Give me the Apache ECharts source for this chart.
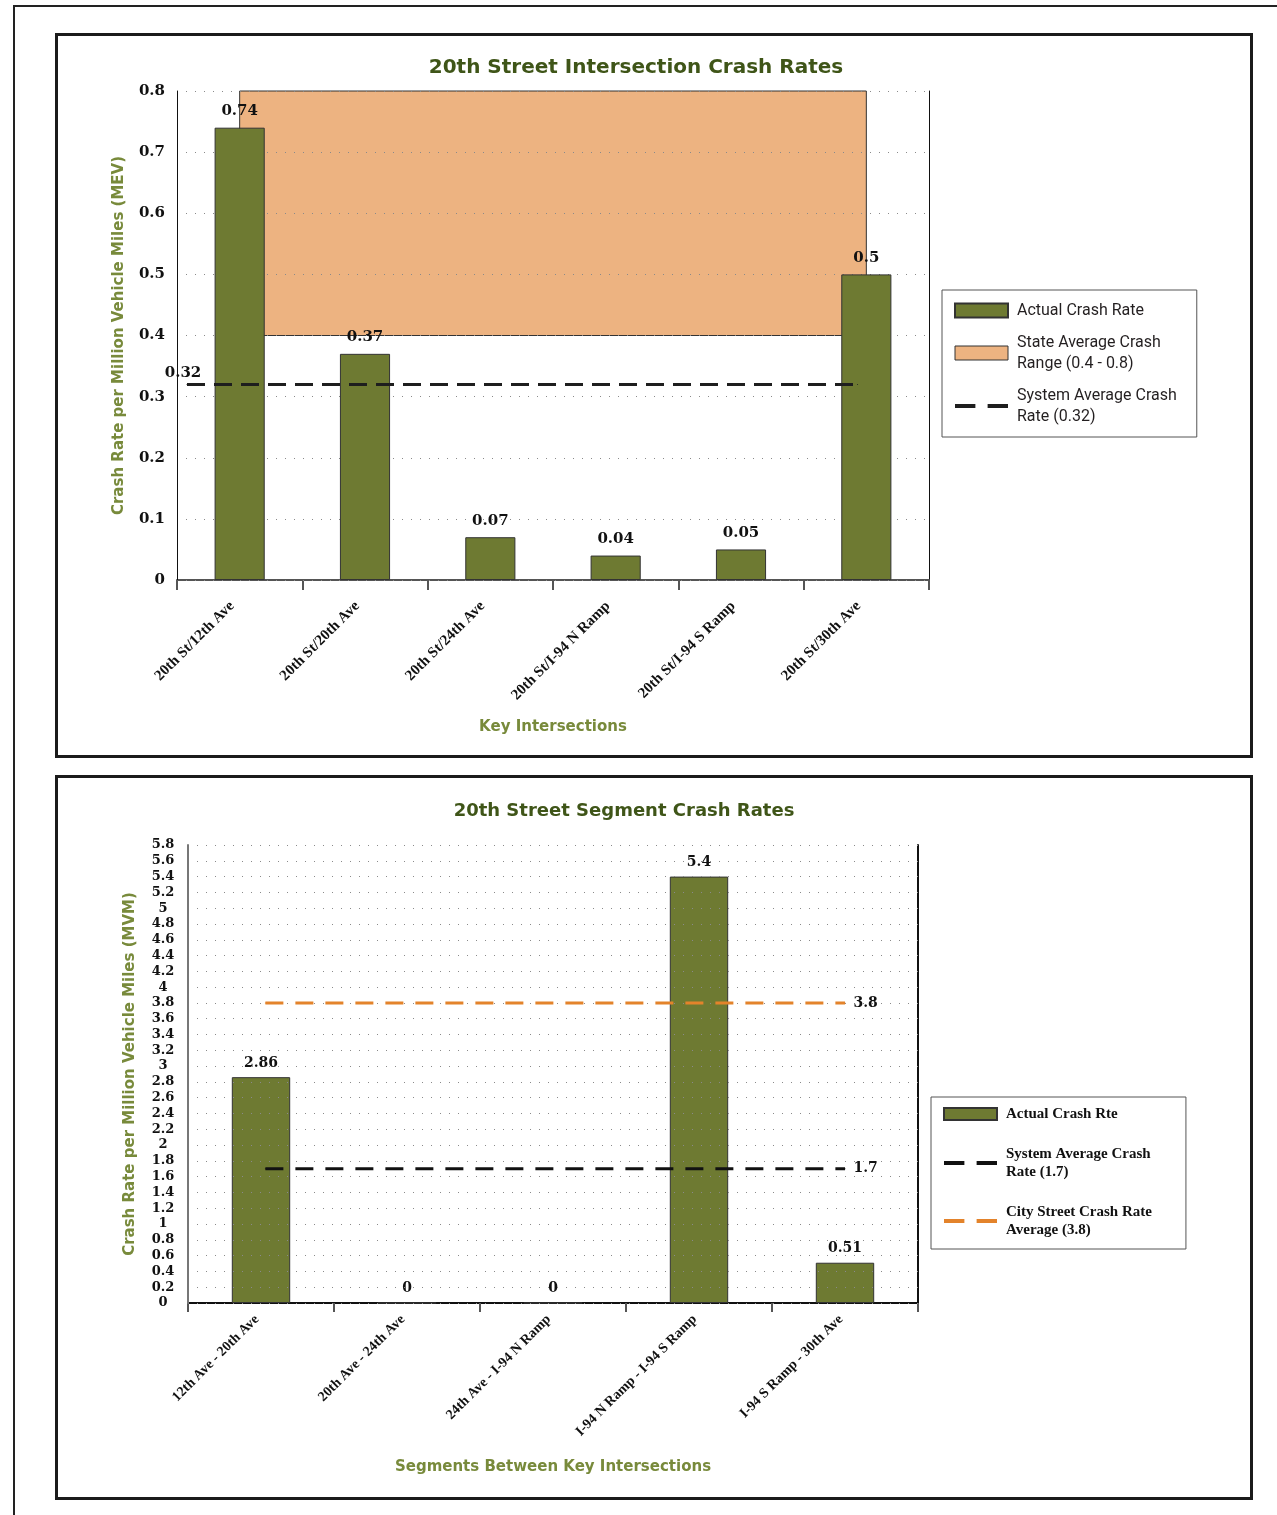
<!DOCTYPE html>
<html>
<head>
<meta charset="utf-8">
<script src="https://cdn.jsdelivr.net/npm/echarts@6/dist/echarts.min.js"></script>
<style>
    html, body { margin: 0; padding: 0; background: #fff; }
    #page { position: relative; width: 1277px; height: 1515px; overflow: hidden; }
    .outer { position: absolute; left: 13px; top: 5px; width: 1300px; height: 1600px; border-left: 2px solid #222; border-top: 2px solid #222; }
    .box { position: absolute; left: 55px; width: 1192px; height: 719px; border: 3px solid #1b1b1b; }
    #chart { position: absolute; left: 0; top: 0; width: 1277px; height: 1515px; }
</style>
</head>
<body>
<div id="page">
    <div class="outer"></div>
    <div class="box" style="top:33px"></div>
    <div class="box" style="top:775px"></div>
    <div id="chart"></div>
</div>
<script>
// 交叉口数据
const intersections = ['20th St/12th Ave', '20th St/20th Ave', '20th St/24th Ave', '20th St/I-94 N Ramp', '20th St/I-94 S Ramp', '20th St/30th Ave']
const intersectionRates = [0.74, 0.37, 0.07, 0.04, 0.05, 0.5]
const stateRange = [0.4, 0.8]
const systemAvgIntersection = 0.32
// 参考线在类目单位下的起止
const intersectionLineSpan = [0.08, 5.43]

// 路段数据
const segments = ['12th Ave - 20th Ave', '20th Ave - 24th Ave', '24th Ave - I-94 N Ramp', 'I-94 N Ramp - I-94 S Ramp', 'I-94 S Ramp - 30th Ave']
const segmentRates = [2.86, 0, 0, 5.4, 0.51]
const systemAvgSegment = 1.7
const cityAvgSegment = 3.8
const segmentLineSpan = [0.53, 4.5]

const BAR_COLOR = '#6e7a32'
const RANGE_COLOR = '#EDB381'
const ORANGE = '#E3832B'
const TITLE_COLOR = '#3f5518'
const NAME_COLOR = '#788a3b'

// 图例中的虚线图标
const DASH_ICON = 'path://M0,0h20v4h-20zM32,0h20v4h-20z'

const legendText = {
    'State Average Crash Range (0.4 - 0.8)': 'State Average Crash\nRange (0.4 - 0.8)',
    'System Average Crash Rate (0.32)': 'System Average Crash\nRate (0.32)',
    'System Average Crash Rate (1.7)': 'System Average Crash\nRate (1.7)',
    'City Street Crash Rate Average (3.8)': 'City Street Crash Rate\nAverage (3.8)'
}

const dotted = { color: '#8a8a8a', width: 1, type: [1, 8] }
const titleStyle = { fontFamily: 'DejaVu Sans', fontWeight: 'bold', color: TITLE_COLOR }
const axisNameStyle = { fontFamily: 'DejaVu Sans', fontWeight: 'bold', fontSize: 15, color: NAME_COLOR }
const catLabel = { rotate: 45, interval: 0, fontFamily: 'Liberation Serif', fontWeight: 'bold', color: '#111' }
const valueLabel = { fontFamily: 'DejaVu Serif', fontWeight: 'bold', color: '#111' }

const chart = echarts.init(document.getElementById('chart'))

const option = {
    animation: false,
    title: [
        { text: '20th Street Intersection Crash Rates', left: 636, top: 58, padding: 0, textAlign: 'center', textStyle: Object.assign({ fontSize: 20 }, titleStyle) },
        { text: '20th Street Segment Crash Rates', left: 624, top: 802, padding: 0, textAlign: 'center', textStyle: Object.assign({ fontSize: 18 }, titleStyle) }
    ],
    legend: [
        {
            orient: 'vertical', left: 942, top: 290,
            padding: [10, 20, 10, 12], itemWidth: 53, itemHeight: 14, itemGap: 11,
            borderColor: '#555', borderWidth: 1,
            textStyle: { fontFamily: 'Roboto', fontSize: 16, color: '#231f20', lineHeight: 21, padding: [0, 0, 0, 4] },
            formatter: name => legendText[name] || name,
            data: [
                { name: 'Actual Crash Rate', icon: 'rect' },
                { name: 'State Average Crash Range (0.4 - 0.8)', icon: 'rect', itemStyle: { color: RANGE_COLOR, borderColor: '#333', borderWidth: 1 } },
                { name: 'System Average Crash Rate (0.32)', icon: DASH_ICON }
            ]
        },
        {
            orient: 'vertical', left: 931, top: 1097,
            padding: [8, 34, 10, 12], itemWidth: 53, itemHeight: 12, itemGap: 22,
            borderColor: '#555', borderWidth: 1,
            textStyle: { fontFamily: 'Liberation Serif', fontWeight: 'bold', fontSize: 15, color: '#111', lineHeight: 18, padding: [0, 0, 0, 4] },
            formatter: name => legendText[name] || name,
            data: [
                { name: 'Actual Crash Rte', icon: 'rect' },
                { name: 'System Average Crash Rate (1.7)', icon: DASH_ICON },
                { name: 'City Street Crash Rate Average (3.8)', icon: DASH_ICON }
            ]
        }
    ],
    grid: [
        { left: 177, top: 91, width: 752, height: 489, outerBoundsMode: 'none' },
        { left: 188, top: 845, width: 730, height: 458, outerBoundsMode: 'none' }
    ],
    xAxis: [
        {
            type: 'category', gridIndex: 0, data: intersections,
            name: 'Key Intersections', nameLocation: 'middle', nameGap: 140, nameTextStyle: axisNameStyle,
            axisLine: { lineStyle: { color: '#555', width: 2 } },
            axisTick: { show: true, length: 10, lineStyle: { color: '#555', width: 2 } },
            axisLabel: Object.assign({ margin: 16, fontSize: 15, padding: [0, 11, 0, 0] }, catLabel)
        },
        { type: 'value', gridIndex: 0, min: 0, max: intersections.length, show: false },
        {
            type: 'category', gridIndex: 1, data: segments,
            name: 'Segments Between Key Intersections', nameLocation: 'middle', nameGap: 157, nameTextStyle: axisNameStyle,
            axisLine: { lineStyle: { color: '#111', width: 2 } },
            axisTick: { show: true, length: 9, lineStyle: { color: '#555', width: 2 } },
            axisLabel: Object.assign({ margin: 10, fontSize: 14, padding: [0, 6, 0, 0] }, catLabel)
        },
        { type: 'value', gridIndex: 1, min: 0, max: segments.length, show: false }
    ],
    yAxis: [
        {
            type: 'value', gridIndex: 0, min: 0, max: 0.8, interval: 0.1, z: 1.5,
            name: 'Crash Rate per Million Vehicle Miles (MEV)', nameLocation: 'middle', nameGap: 50, nameTextStyle: axisNameStyle,
            axisLine: { show: true, lineStyle: { color: '#111', width: 1 } },
            axisTick: { show: false },
            axisLabel: Object.assign({ margin: 12, fontSize: 15 }, valueLabel),
            splitLine: { show: true, lineStyle: dotted }
        },
        {
            type: 'value', gridIndex: 0, min: 0, max: 0.8, interval: 0.1, position: 'right',
            axisLine: { show: true, lineStyle: { color: '#111', width: 1 } },
            axisTick: { show: false }, axisLabel: { show: false }, splitLine: { show: false }
        },
        {
            type: 'value', gridIndex: 1, min: 0, max: 5.8, interval: 0.2, z: 3,
            name: 'Crash Rate per Million Vehicle Miles (MVM)', nameLocation: 'middle', nameGap: 50, nameTextStyle: axisNameStyle,
            axisLine: { show: true, lineStyle: { color: '#777', width: 2 } },
            axisTick: { show: false },
            axisLabel: Object.assign({
                margin: 25, align: 'center', fontSize: 13,
                formatter: v => String(+v.toFixed(1))
            }, valueLabel),
            splitLine: { show: true, lineStyle: dotted }
        },
        {
            type: 'value', gridIndex: 1, min: 0, max: 5.8, interval: 0.2, position: 'right',
            axisLine: { show: true, lineStyle: { color: '#111', width: 2 } },
            axisTick: { show: false }, axisLabel: { show: false }, splitLine: { show: false }
        }
    ],
    series: [
        // 州平均区间 - 橙色区域
        {
            name: 'State Average Crash Range (0.4 - 0.8)', type: 'line',
            xAxisIndex: 0, yAxisIndex: 0, z: 1,
            data: intersections.map(() => null),
            symbol: 'none',
            itemStyle: { color: RANGE_COLOR },
            lineStyle: { color: RANGE_COLOR },
            markArea: {
                silent: true, z: 1,
                itemStyle: { color: RANGE_COLOR, opacity: 1, borderColor: '#333', borderWidth: 1 },
                data: [[
                    { xAxis: intersections[0], yAxis: stateRange[0] },
                    { xAxis: intersections[intersections.length - 1], yAxis: stateRange[1] }
                ]]
            }
        },
        {
            name: 'Actual Crash Rate', type: 'bar',
            xAxisIndex: 0, yAxisIndex: 0, z: 2,
            barWidth: '40%',
            data: intersectionRates,
            itemStyle: { color: BAR_COLOR, borderColor: '#333', borderWidth: 1 },
            label: Object.assign({ show: true, position: 'top', distance: 9, fontSize: 15 }, valueLabel)
        },
        {
            name: 'System Average Crash Rate (0.32)', type: 'line',
            xAxisIndex: 1, yAxisIndex: 0, z: 3,
            symbol: 'circle', symbolSize: 1, showSymbol: true,
            lineStyle: { color: '#1e1e1e', width: 3, type: [18, 9] },
            itemStyle: { color: '#1e1e1e' },
            data: [
                { value: [intersectionLineSpan[0], systemAvgIntersection], label: { show: true, position: 'top', distance: 3, offset: [-4, 0], formatter: String(systemAvgIntersection) } },
                [intersectionLineSpan[1], systemAvgIntersection]
            ],
            label: Object.assign({ fontSize: 15 }, valueLabel)
        },
        // 路段图
        {
            name: 'Actual Crash Rte', type: 'bar',
            xAxisIndex: 2, yAxisIndex: 2, z: 2,
            barWidth: '40%',
            data: segmentRates,
            itemStyle: { color: BAR_COLOR, borderColor: '#333', borderWidth: 1 },
            label: Object.assign({ show: true, position: 'top', distance: 7, fontSize: 14 }, valueLabel)
        },
        {
            name: 'System Average Crash Rate (1.7)', type: 'line',
            xAxisIndex: 3, yAxisIndex: 2, z: 4,
            symbol: 'circle', symbolSize: 1, showSymbol: true,
            lineStyle: { color: '#111', width: 3, type: [18, 12] },
            itemStyle: { color: '#111' },
            data: [
                [segmentLineSpan[0], systemAvgSegment],
                { value: [segmentLineSpan[1], systemAvgSegment], label: { show: true, position: 'right', distance: 8, formatter: String(systemAvgSegment) } }
            ],
            label: Object.assign({ fontSize: 14 }, valueLabel)
        },
        {
            name: 'City Street Crash Rate Average (3.8)', type: 'line',
            xAxisIndex: 3, yAxisIndex: 2, z: 4,
            symbol: 'circle', symbolSize: 1, showSymbol: true,
            lineStyle: { color: ORANGE, width: 3, type: [18, 12] },
            itemStyle: { color: ORANGE },
            data: [
                [segmentLineSpan[0], cityAvgSegment],
                { value: [segmentLineSpan[1], cityAvgSegment], label: { show: true, position: 'right', distance: 8, formatter: String(cityAvgSegment) } }
            ],
            label: Object.assign({ fontSize: 14 }, valueLabel)
        }
    ]
}

chart.setOption(option)
</script>
</body>
</html>
